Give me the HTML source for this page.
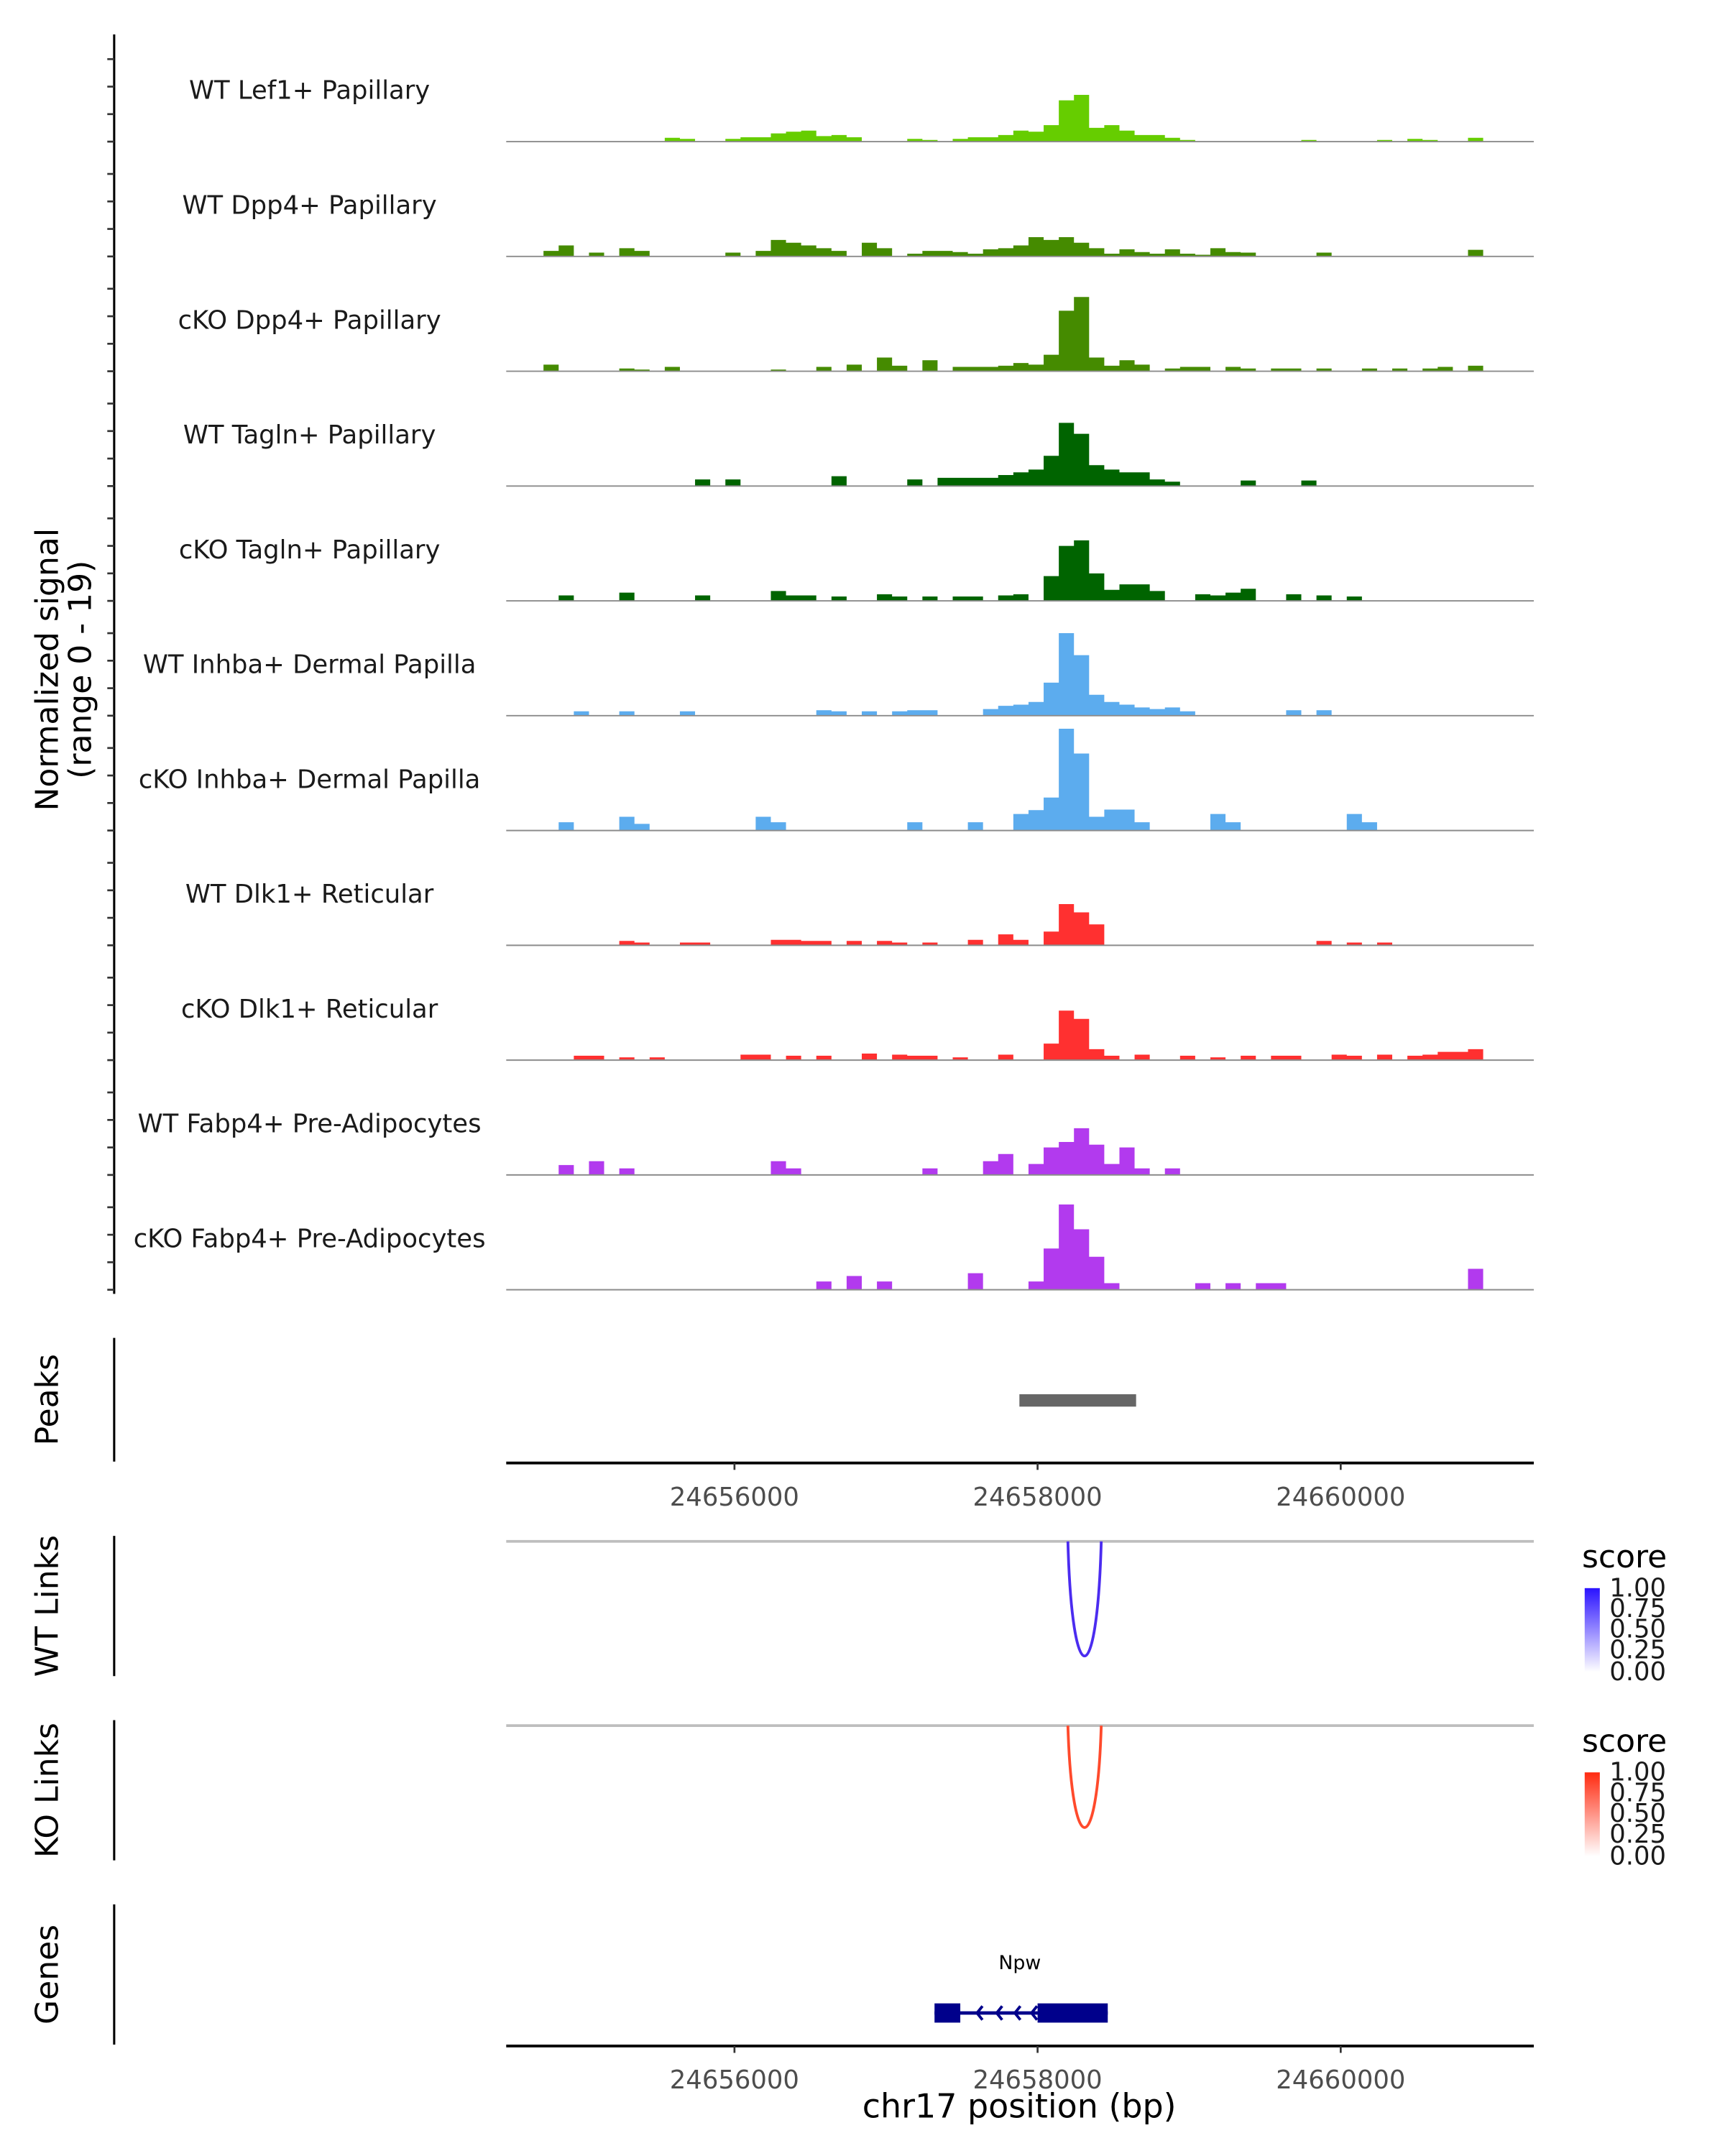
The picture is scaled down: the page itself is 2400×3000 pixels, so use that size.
<!DOCTYPE html>
<html><head><meta charset="utf-8"><style>
html,body{margin:0;padding:0;background:#fff;}
svg{display:block;font-family:"DejaVu Sans","Liberation Sans",sans-serif;}
</style></head><body>
<svg id="chart" width="2400" height="3000" viewBox="0 0 1254 1568" preserveAspectRatio="none" xmlns="http://www.w3.org/2000/svg">
<rect width="1260" height="1580" fill="#fff"/>
<g id="tracks"></g>
<line x1="83" y1="25" x2="83" y2="941" stroke="#000" stroke-width="1.6"/>
<g id="yticks"></g>
<text transform="translate(42,487) rotate(-90)" text-anchor="middle" font-size="23" fill="#000">Normalized signal</text>
<text transform="translate(66,487) rotate(-90)" text-anchor="middle" font-size="23" fill="#000">(range 0 - 19)</text>

<line x1="83" y1="973" x2="83" y2="1063" stroke="#000" stroke-width="1.6"/>
<text transform="translate(42,1018) rotate(-90)" text-anchor="middle" font-size="23">Peaks</text>
<g id="peaks"></g>
<g id="xaxis1"></g>

<line x1="83" y1="1117" x2="83" y2="1219" stroke="#000" stroke-width="1.6"/>
<text transform="translate(42,1168) rotate(-90)" text-anchor="middle" font-size="23">WT Links</text>
<line x1="83" y1="1251" x2="83" y2="1353" stroke="#000" stroke-width="1.6"/>
<text transform="translate(42,1302) rotate(-90)" text-anchor="middle" font-size="23">KO Links</text>
<g id="links"></g>

<defs>
<linearGradient id="gblue" x1="0" y1="1" x2="0" y2="0"><stop offset="0" stop-color="#ffffff"/><stop offset="1" stop-color="#2a12ff"/></linearGradient>
<linearGradient id="gred" x1="0" y1="1" x2="0" y2="0"><stop offset="0" stop-color="#ffffff"/><stop offset="1" stop-color="#ff2a10"/></linearGradient>
</defs>
<g>
<text x="1150" y="1140" font-size="23">score</text>
<rect x="1152" y="1155" width="11" height="61" fill="url(#gblue)"/>
<g font-size="18.5" fill="#1a1a1a">
<text x="1170" y="1161">1.00</text><text x="1170" y="1176">0.75</text><text x="1170" y="1191">0.50</text><text x="1170" y="1206">0.25</text><text x="1170" y="1222">0.00</text>
</g></g>
<g>
<text x="1150" y="1274" font-size="23">score</text>
<rect x="1152" y="1289" width="11" height="61" fill="url(#gred)"/>
<g font-size="18.5" fill="#1a1a1a">
<text x="1170" y="1295">1.00</text><text x="1170" y="1310">0.75</text><text x="1170" y="1325">0.50</text><text x="1170" y="1340">0.25</text><text x="1170" y="1356">0.00</text>
</g></g>

<line x1="83" y1="1385" x2="83" y2="1487" stroke="#000" stroke-width="1.6"/>
<text transform="translate(42,1436) rotate(-90)" text-anchor="middle" font-size="23">Genes</text>
<g id="genes"></g>
<g id="xaxis2"></g>
<text x="741" y="1540" text-anchor="middle" font-size="24">chr17 position (bp)</text>
</svg>
<script>
// ---- data ----
const regionStart = 24654494, regionEnd = 24661274;
const binStart = 24654740, binSize = 100;
const trackNames = ["WT Lef1+ Papillary","WT Dpp4+ Papillary","cKO Dpp4+ Papillary","WT Tagln+ Papillary","cKO Tagln+ Papillary","WT Inhba+ Dermal Papilla","cKO Inhba+ Dermal Papilla","WT Dlk1+ Reticular","cKO Dlk1+ Reticular","WT Fabp4+ Pre-Adipocytes","cKO Fabp4+ Pre-Adipocytes"];
const trackColors = ["#66cd00","#458b00","#458b00","#006400","#006400","#5cacee","#5cacee","#ff3030","#ff3030","#b23aee","#b23aee"];
const sigLef1WT = [0,0,0,0,0,0,0,0,0.7,0.5, 0,0,0.5,0.8,0.8,1.5,1.8,2,1,1.2, 0.8,0,0,0,0.5,0.3,0,0.5,0.8,0.8, 1.2,2,1.8,3,7.5,8.5,2.5,3,2,1.2, 1.2,0.7,0.3,0,0,0,0,0,0,0, 0.3,0,0,0,0,0.3,0,0.5,0.3,0, 0,0.7];
const sigDpp4WT = [1,2,0,0.7,0,1.5,1,0,0,0, 0,0,0.7,0,1,3,2.5,2,1.5,1, 0,2.5,1.5,0,0.5,1,1,0.8,0.5,1.3, 1.5,2,3.5,3,3.5,2.5,1.5,0.5,1.3,0.8, 0.5,1.3,0.5,0.3,1.5,0.8,0.7,0,0,0, 0,0.7,0,0,0,0,0,0,0,0, 0,1.2];
const sigDpp4KO = [1.2,0,0,0,0,0.5,0.3,0,0.8,0, 0,0,0,0,0,0.3,0,0,0.8,0, 1.2,0,2.5,1,0,2,0,0.8,0.8,0.8, 1,1.5,1.2,3,11,13.5,2.5,1,2,1.2, 0,0.5,0.8,0.8,0,0.8,0.5,0,0.5,0.5, 0,0.5,0,0,0.5,0,0.5,0,0.5,0.8, 0,1];
const sigTaglnWT = [0,0,0,0,0,0,0,0,0,0, 1.2,0,1.2,0,0,0,0,0,0,1.8, 0,0,0,0,1.2,0,1.5,1.5,1.5,1.5, 2,2.5,3,5.5,11.5,9.5,3.8,3,2.5,2.5, 1.2,0.8,0,0,0,0,1,0,0,0, 1,0,0,0,0,0,0,0,0,0, 0,0];
const sigTaglnKO = [0,1,0,0,0,1.5,0,0,0,0, 1,0,0,0,0,1.8,1,1,0,0.8, 0,0,1.2,0.8,0,0.8,0,0.8,0.8,0, 1,1.2,0,4.5,10,11,5,2,3,3, 1.8,0,0,1.2,1,1.5,2.2,0,0,1.2, 0,1,0,0.8,0,0,0,0,0,0, 0,0];
const sigInhbaWT = [0,0,0.8,0,0,0.8,0,0,0,0.8, 0,0,0,0,0,0,0,0,1,0.8, 0,0.8,0,0.8,1,1,0,0,0,1.2, 1.8,2,2.5,6,15,11,3.8,2.5,2,1.5, 1.2,1.5,0.8,0,0,0,0,0,0,1, 0,1,0,0,0,0,0,0,0,0, 0,0];
const sigInhbaKO = [0,1.5,0,0,0,2.5,1.2,0,0,0, 0,0,0,0,2.5,1.5,0,0,0,0, 0,0,0,0,1.5,0,0,0,1.5,0, 0,3,3.7,6,18.5,14,2.5,3.8,3.8,1.5, 0,0,0,0,3,1.5,0,0,0,0, 0,0,0,3,1.5,0,0,0,0,0, 0,0];
const sigDlk1WT = [0,0,0,0,0,0.8,0.5,0,0,0.5, 0.5,0,0,0,0,1,1,0.8,0.8,0, 0.8,0,0.8,0.5,0,0.5,0,0,1,0, 2,1,0,2.5,7.5,6,3.8,0,0,0, 0,0,0,0,0,0,0,0,0,0, 0,0.8,0,0.5,0,0.5,0,0,0,0, 0,0];
const sigDlk1KO = [0,0,0.8,0.8,0,0.5,0,0.5,0,0, 0,0,0,1,1,0,0.8,0,0.8,0, 0,1.2,0,1,0.8,0.8,0,0.5,0,0, 1,0,0,3,9,7.5,2,0.8,0,1, 0,0,0.8,0,0.5,0,0.8,0,0.8,0.8, 0,0,1,0.8,0,1,0,0.8,1,1.5, 1.5,2];
const sigFabp4WT = [0,1.8,0,2.5,0,1.2,0,0,0,0, 0,0,0,0,0,2.5,1.2,0,0,0, 0,0,0,0,0,1.2,0,0,0,2.5, 3.8,0,2,5,6,8.5,5.5,2,5,1.2, 0,1.2,0,0,0,0,0,0,0,0, 0,0,0,0,0,0,0,0,0,0, 0,0];
const sigFabp4KO = [0,0,0,0,0,0,0,0,0,0, 0,0,0,0,0,0,0,0,1.5,0, 2.5,0,1.5,0,0,0,0,0,3,0, 0,0,1.5,7.5,15.5,11,6,1.2,0,0, 0,0,0,1.2,0,1.2,0,1.2,1.2,0, 0,0,0,0,0,0,0,0,0,0, 0,3.8];
const trackSignals = [sigLef1WT,sigDpp4WT,sigDpp4KO,sigTaglnWT,sigTaglnKO,sigInhbaWT,sigInhbaKO,sigDlk1WT,sigDlk1KO,sigFabp4WT,sigFabp4KO];
const yMax = 19;
const tickValues = [0,5,10,15];
const xTicks = [24656000,24658000,24660000];
const xTickLabels = ["24656000","24658000","24660000"];
const peakStarts = [24657880];
const peakEnds = [24658650];
const wtLinkStart = [24658200], wtLinkEnd = [24658420], wtLinkScore = [0.9];
const koLinkStart = [24658200], koLinkEnd = [24658420], koLinkScore = [0.8];
const geneName = ["Npw"];
const exonStarts = [24657320, 24658000];
const exonEnds = [24657490, 24658463];
const arrowPos = [24657600, 24657730, 24657850, 24657960];

// ---- scales ----
const NS = "http://www.w3.org/2000/svg";
const X0 = 368, X1 = 1115;
const xs = bp => X0 + (bp - regionStart) / (regionEnd - regionStart) * (X1 - X0);
const trackH = 83.5, plotH = 76;
const base = i => 103 + i * trackH;
const ys = (i, v) => base(i) - v / yMax * plotH;
function mk(tag, attrs, parent) { const e = document.createElementNS(NS, tag); for (const k in attrs) e.setAttribute(k, attrs[k]); parent.appendChild(e); return e; }

const gT = document.getElementById('tracks');
const gY = document.getElementById('yticks');
trackNames.forEach((name, i) => {
  const sig = trackSignals[i];
  let d = `M${xs(binStart).toFixed(2)},${base(i)}`;
  sig.forEach((v, j) => {
    const a = xs(binStart + j * binSize), b = xs(binStart + (j + 1) * binSize);
    d += ` L${a.toFixed(2)},${ys(i, v).toFixed(2)} L${b.toFixed(2)},${ys(i, v).toFixed(2)}`;
  });
  d += ` L${xs(binStart + sig.length * binSize).toFixed(2)},${base(i)} Z`;
  const p = mk('path', { d: d, fill: trackColors[i] }, gT);
  
  
  const bl = mk('line', { x1: X0, x2: X1, y1: base(i), y2: base(i), stroke: '#8c8c8c', 'stroke-width': 1 }, gT);
  
  
  const t = mk('text', { x: 225, y: base(i) - 31, 'text-anchor': 'middle', 'font-size': 18.5, fill: '#1a1a1a' }, gT);
  t.textContent = name;
  
  
  tickValues.forEach(tv => {
    const tk = mk('line', { x1: 78, x2: 83, y1: ys(i, tv), y2: ys(i, tv), stroke: '#333', 'stroke-width': 1.4 }, gY);
    
    
  });
});

const gP = document.getElementById('peaks');
peakStarts.forEach((s, k) => {
  const r = mk('rect', { x: xs(s), y: 1014, width: xs(peakEnds[k]) - xs(s), height: 9, fill: '#666666' }, gP);
  
  
});

function xAxis(id, y) {
  const g = document.getElementById(id);
  const l = mk('line', { x1: X0, x2: X1, y1: y, y2: y, stroke: '#000', 'stroke-width': 2 }, g);
  
  
  xTicks.forEach((bp, k) => {
    const tk = mk('line', { x1: xs(bp), x2: xs(bp), y1: y, y2: y + 5, stroke: '#333', 'stroke-width': 1.4 }, g);
    
    
    const t = mk('text', { x: xs(bp), y: y + 31, 'text-anchor': 'middle', 'font-size': 18.5, fill: '#4d4d4d' }, g);
    t.textContent = xTickLabels[k];
    
    
  });
}
xAxis('xaxis1', 1064);
xAxis('xaxis2', 1488);

const gL = document.getElementById('links');
function links(top, starts, ends, scores, color) {
  const l = mk('line', { x1: X0, x2: X1, y1: top, y2: top, stroke: '#bebebe', 'stroke-width': 2 }, gL);
  
  
  starts.forEach((s, k) => {
    const a = xs(s), b = xs(ends[k]), depth = 95 * scores[k];
    const p = mk('path', { d: `M${a},${top} C${a + 3},${top + depth * 1.3} ${b - 3},${top + depth * 1.3} ${b},${top}`, fill: 'none', stroke: color, 'stroke-width': 2 }, gL);
    
    
  });
}
links(1121, wtLinkStart, wtLinkEnd, wtLinkScore, '#4b2cf0');
links(1255, koLinkStart, koLinkEnd, koLinkScore, '#ff4a2c');

const gG = document.getElementById('genes');
const gy = 1464;
const intron = mk('line', { x1: xs(exonStarts[0]), x2: xs(exonEnds[exonEnds.length - 1]), y1: gy, y2: gy, stroke: '#00008b', 'stroke-width': 2.5 }, gG);


exonStarts.forEach((s, k) => {
  const r = mk('rect', { x: xs(s), y: gy - 7, width: xs(exonEnds[k]) - xs(s), height: 14, fill: '#00008b' }, gG);
  
  
});
arrowPos.forEach(bp => {
  const x = xs(bp);
  const a = mk('path', { d: `M${x + 4},${gy - 5} L${x},${gy} L${x + 4},${gy + 5}`, fill: 'none', stroke: '#00008b', 'stroke-width': 2 }, gG);
  
  
});
const gn = mk('text', { x: (xs(exonStarts[0]) + xs(exonEnds[exonEnds.length - 1])) / 2 - 1, y: 1432, 'text-anchor': 'middle', 'font-size': 14, fill: '#000' }, gG);
gn.textContent = geneName[0];


</script>
</body></html>
